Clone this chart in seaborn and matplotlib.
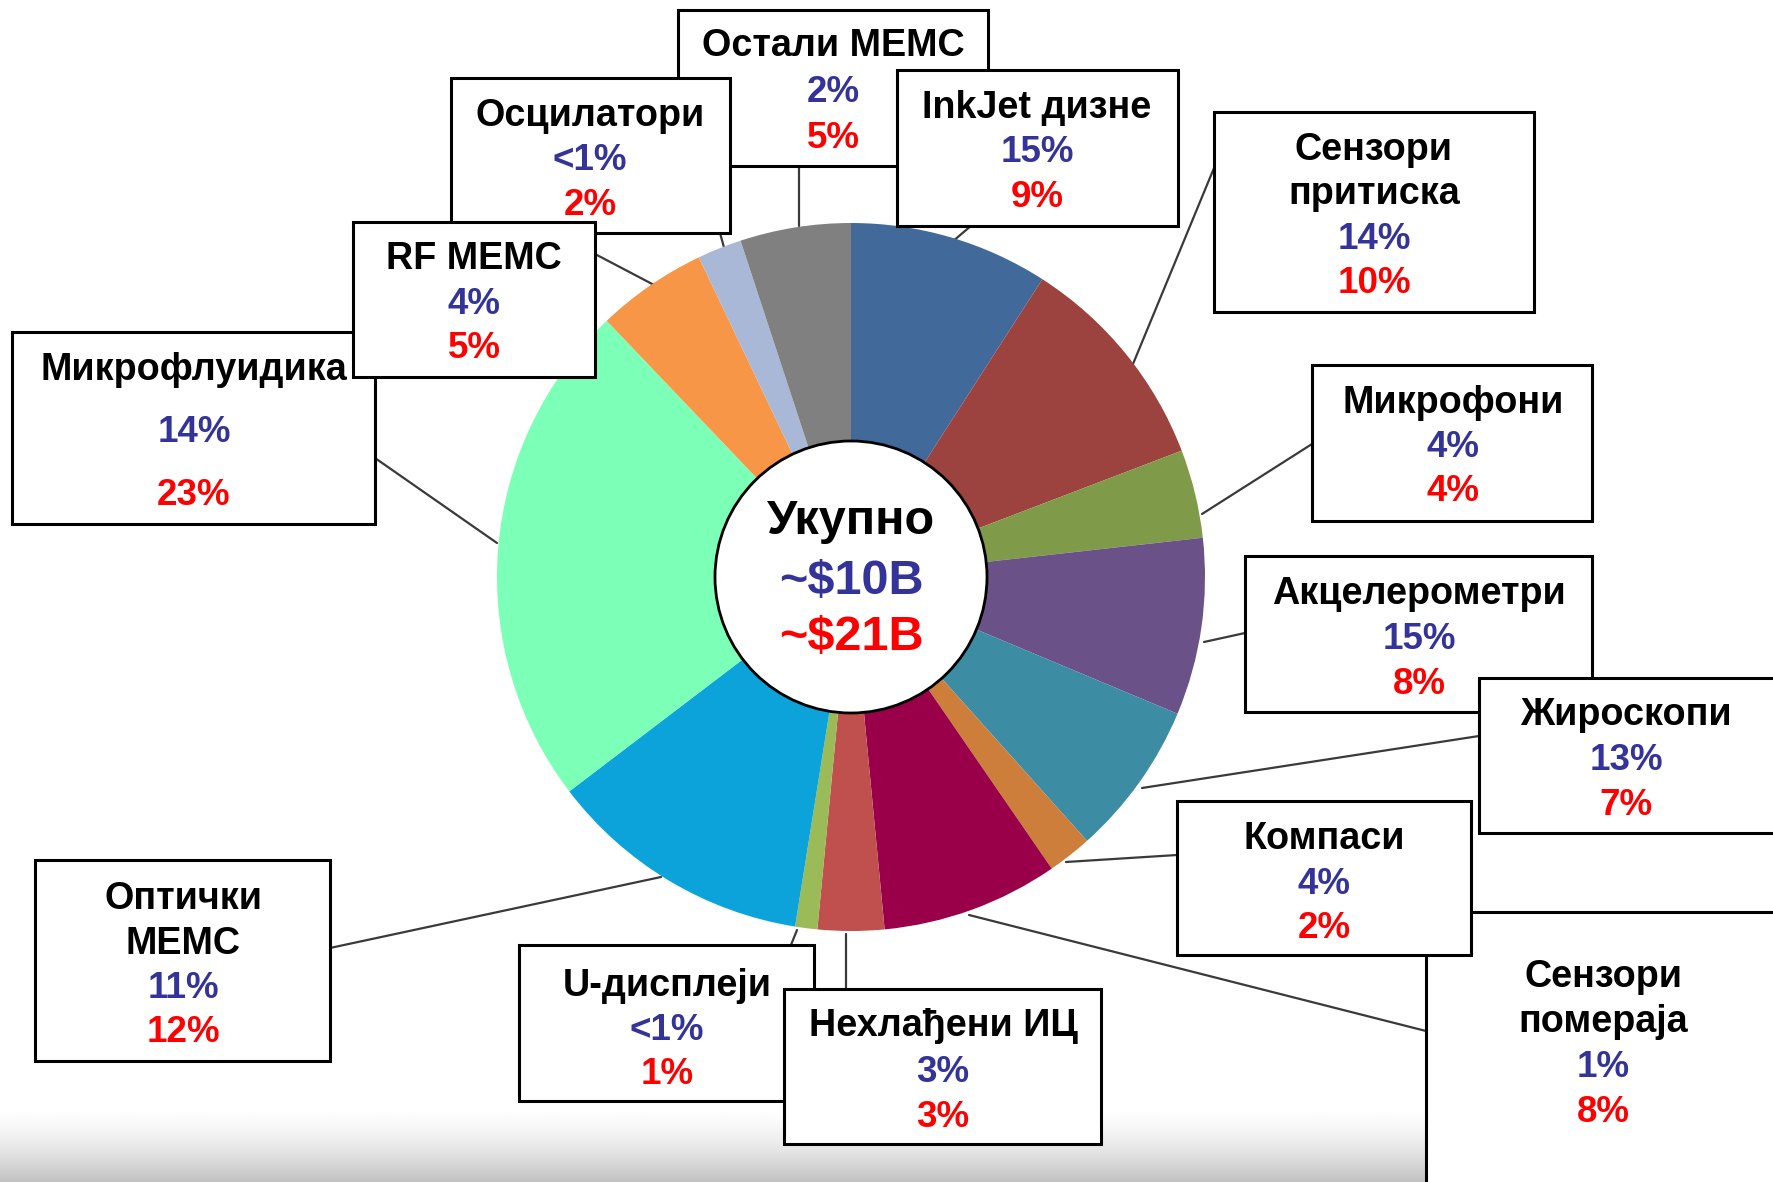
import numpy as np
import matplotlib
matplotlib.use("Agg")
import matplotlib.pyplot as plt
import seaborn as sns

# segment names, share of the ~$10B market and of the ~$21B market
segments = ['InkJet дизне', 'Сензори\nпритиска', 'Микрофони', 'Акцелерометри',
            'Жироскопи', 'Компаси', 'Сензори\nпомераја', 'Нехлађени ИЦ',
            'U-дисплеји', 'Оптички\nМЕМС', 'Микрофлуидика', 'RF МЕМС',
            'Осцилатори', 'Остали МЕМС']
share_10b = ['15%', '14%', '4%', '15%', '13%', '4%', '1%', '3%',
             '<1%', '11%', '14%', '4%', '<1%', '2%']
share_21b = [9, 10, 4, 8, 7, 2, 8, 3, 1, 12, 23, 5, 2, 5]
colors = ['#416a9b', '#9c423f', '#7f9a48', '#6a5187', '#3c8ca3', '#cc7e3a',
          '#990049', '#c0504d', '#9bbb59', '#0ba3d9', '#7cffb6', '#f79646',
          '#a8b8d6', '#808080']
total_labels = ['Укупно', '~$10B', '~$21B']

W, H = 1773, 1182
BLUE = '#333399'
RED = '#ff0000'

# layout (pixels from top-left): box, text x, first line y, line step, leader line
boxes = [(897, 70, 1178, 226), (1214, 112, 1534, 312), (1312, 365, 1592, 521),
         (1245, 556, 1592, 712), (1479, 678, 1800, 833), (1177, 801, 1471, 955),
         (1426, 912, 1800, 1200), (784, 989, 1101, 1144), (519, 945, 814, 1101),
         (35, 860, 330, 1061), (12, 332, 375, 524), (353, 222, 595, 377),
         (451, 78, 730, 233), (678, 10, 988, 166)]
text_x = [1037, 1374, 1453, 1419, 1626, 1324, 1603, 943, 667, 183, 194, 474, 590, 833]
first_y = [105, 147, 400, 591, 712, 836, 974, 1023, 983, 896, 367, 256, 113, 43]
step_y = [44.5, 44.3, 44, 45, 45, 44.5, 45, 45.5, 44, 44.5, 62.5, 44.5, 44.5, 46]
leaders = [((972, 225), (952, 242)), ((1214, 168), (1133, 364)),
           ((1312, 444), (1202, 514)), ((1245, 633), (1204, 642)),
           ((1479, 736), (1142, 788)), ((1177, 855), (1066, 862)),
           ((1426, 1031), (969, 915)), ((846, 989), (846, 934)),
           ((791, 945), (797, 930)), ((330, 948), (661, 877)),
           ((375, 458), (497, 543)), ((595, 254), (656, 286)),
           ((720, 233), (725, 251)), ((799, 166), (799, 226))]
draw_order = [13, 12, 0, 1, 10, 11, 2, 3, 4, 6, 5, 8, 7, 9]

sns.set_theme(style='white')
plt.rcParams['font.family'] = ['Liberation Sans', 'DejaVu Sans']

fig = plt.figure(figsize=(W / 100, H / 100), dpi=100)
ax = fig.add_axes([0, 0, 1, 1])


def Y(y):
    return H - y


# faint gray fade at the bottom edge
grad = np.linspace(0, 1, 200) ** 1.6
grad = 1 - 0.24 * grad
ax.imshow(grad[:, None], cmap='gray', vmin=0, vmax=1, aspect='auto',
          extent=(0, W, Y(1182), Y(1105)), zorder=0)

# leader lines
for (x0, y0), (x1, y1) in leaders:
    ax.plot([x0, x1], [Y(y0), Y(y1)], color='#3a3a3a', lw=1.6, zorder=1)

# pie (clockwise from 12 o'clock)
cx, cy, r = 851, 577, 354
wedges, _ = ax.pie(share_21b, colors=colors, startangle=90, counterclock=False,
                   center=(cx, Y(cy)), radius=r, frame=True,
                   wedgeprops=dict(linewidth=0))
for w in wedges:
    w.set_zorder(2)

ax.add_patch(plt.Circle((cx, Y(cy)), 136, facecolor='white', edgecolor='black',
                        lw=2, zorder=3))
for txt, col, yy in zip(total_labels, ['black', BLUE, RED], [521, 582, 638]):
    ax.text(cx, Y(yy), txt, color=col, fontsize=35, fontweight='bold',
            ha='center', va='center', zorder=4)

# label boxes
z = 10
for i in draw_order:
    x0, y0, x1, y1 = boxes[i]
    ax.add_patch(plt.Rectangle((x0, Y(y1)), x1 - x0, y1 - y0, facecolor='white',
                               edgecolor='black', lw=2.2, zorder=z))
    lines = segments[i].split('\n')
    items = [(t, 'black', 27.2) for t in lines] + [(share_10b[i], BLUE, 26.5),
                                                   (f'{share_21b[i]}%', RED, 26.5)]
    for k, (t, col, fs) in enumerate(items):
        yy = first_y[i] + k * step_y[i]
        ax.text(text_x[i], Y(yy + 13), t, color=col, fontsize=fs,
                fontweight='bold', ha='center', va='baseline', zorder=z + 1)
    z += 2

ax.set_xlim(0, W)
ax.set_ylim(0, H)
ax.set_aspect('equal')
ax.axis('off')

fig.savefig('out.png', dpi=100, facecolor='white')
